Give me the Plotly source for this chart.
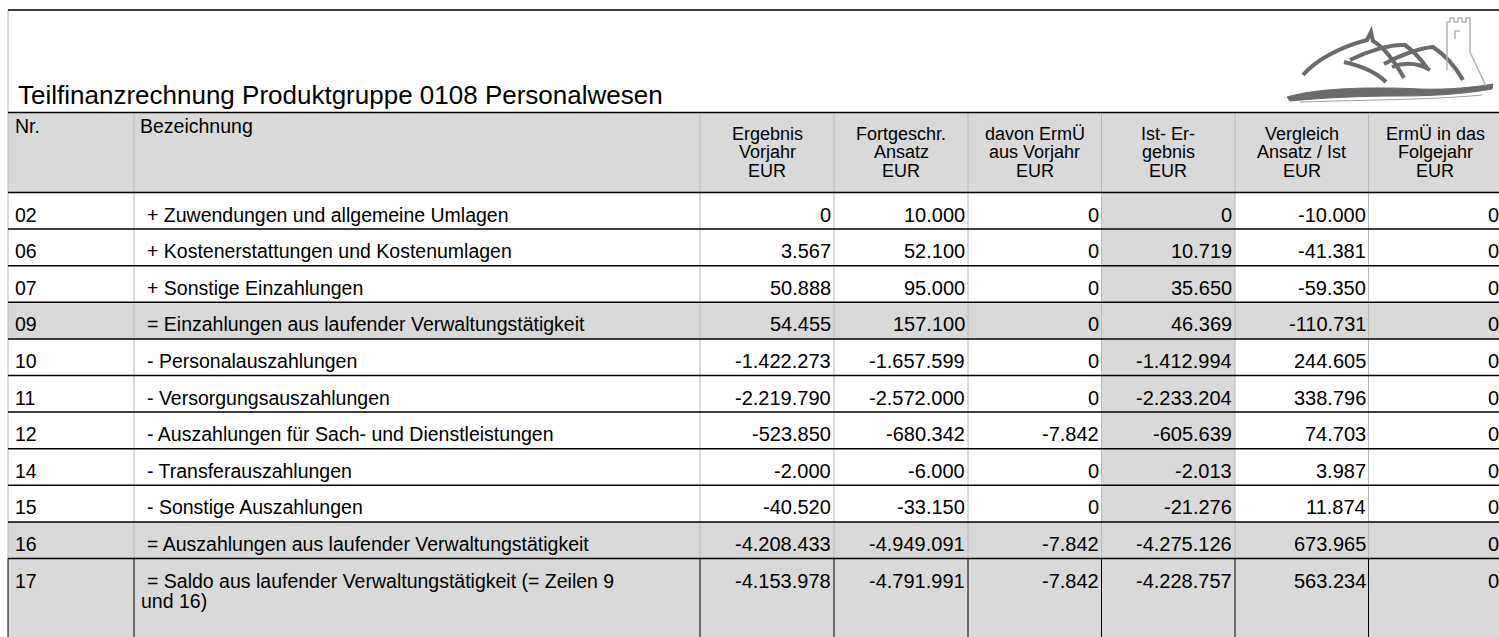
import plotly.graph_objects as go

# ---------------- data ----------------
title = "Teilfinanzrechnung Produktgruppe 0108 Personalwesen"
col_headers = [
    ["Nr."],
    ["Bezeichnung"],
    ["Ergebnis", "Vorjahr", "EUR"],
    ["Fortgeschr.", "Ansatz", "EUR"],
    ["davon ErmÜ", "aus Vorjahr", "EUR"],
    ["Ist- Er-", "gebnis", "EUR"],
    ["Vergleich", "Ansatz / Ist", "EUR"],
    ["ErmÜ in das", "Folgejahr", "EUR"],
]
nr = ["02", "06", "07", "09", "10", "11", "12", "14", "15", "16", "17"]
bezeichnung = [
    "+ Zuwendungen und allgemeine Umlagen",
    "+ Kostenerstattungen und Kostenumlagen",
    "+ Sonstige Einzahlungen",
    "= Einzahlungen aus laufender Verwaltungstätigkeit",
    "- Personalauszahlungen",
    "- Versorgungsauszahlungen",
    "- Auszahlungen für Sach- und Dienstleistungen",
    "- Transferauszahlungen",
    "- Sonstige Auszahlungen",
    "= Auszahlungen aus laufender Verwaltungstätigkeit",
    "= Saldo aus laufender Verwaltungstätigkeit (= Zeilen 9<br>und 16)",
]
ergebnis_vorjahr = [0, 3567, 50888, 54455, -1422273, -2219790, -523850, -2000, -40520, -4208433, -4153978]
fortgeschr_ansatz = [10000, 52100, 95000, 157100, -1657599, -2572000, -680342, -6000, -33150, -4949091, -4791991]
davon_ermue_vorjahr = [0, 0, 0, 0, 0, 0, -7842, 0, 0, -7842, -7842]
ist_ergebnis = [0, 10719, 35650, 46369, -1412994, -2233204, -605639, -2013, -21276, -4275126, -4228757]
vergleich_ansatz_ist = [-10000, -41381, -59350, -110731, 244605, 338796, 74703, 3987, 11874, 673965, 563234]
ermue_folgejahr = [0, 0, 0, 0, 0, 0, 0, 0, 0, 0, 0]
summary_rows = ["09", "16", "17"]
boxed_rows = ["17"]

value_columns = [ergebnis_vorjahr, fortgeschr_ansatz, davon_ermue_vorjahr,
                 ist_ergebnis, vergleich_ansatz_ist, ermue_folgejahr]

# ---------------- layout constants ----------------
W, H = 1499, 637
col_edges = [8, 134, 700, 834, 968, 1101.5, 1235, 1368.5, 1502]
shaded_col = 5            # "Ist- Ergebnis" column is always shaded
top_rule = 10
header_top, header_bottom = 112.5, 192.5
row_h = 36.6
last_row_h = 90
FILL = "#d9d9d9"
VLINE = "#b8b8b8"
BLACK = "#000000"
FONT = "Liberation Sans, Arial, Helvetica, sans-serif"
NUM_SIZE = 20
TEXT_SIZE = 19.5
HEAD_SIZE = 18
TITLE_SIZE = 26

def fmt(v):
    return f"{v:,}".replace(",", ".")

row_tops = []
y = header_bottom
for n in nr:
    row_tops.append(y)
    y += last_row_h if n in boxed_rows else row_h
row_bottoms = row_tops[1:] + [y]

shapes = []
annotations = []

def rect(x0, y0, x1, y1, fill):
    shapes.append(dict(type="rect", xref="x", yref="y", x0=x0, x1=x1, y0=y0, y1=y1,
                       fillcolor=fill, line=dict(width=0), layer="below"))

def line(x0, y0, x1, y1, color, width=1):
    shapes.append(dict(type="line", xref="x", yref="y", x0=x0, x1=x1, y0=y0, y1=y1,
                       line=dict(color=color, width=width)))

def text(x, y, s, size, anchor="left"):
    annotations.append(dict(xref="x", yref="y", x=x, y=y, text=s, showarrow=False,
                            xanchor=anchor, yanchor="middle", borderpad=0, borderwidth=0,
                            font=dict(family=FONT, size=size, color="#000000")))

# backgrounds
rect(col_edges[0], header_top, col_edges[-1], header_bottom, FILL)
for i, n in enumerate(nr):
    if n in summary_rows:
        rect(col_edges[0], row_tops[i], col_edges[-1], row_bottoms[i], FILL)
    else:
        rect(col_edges[shaded_col], row_tops[i], col_edges[shaded_col + 1], row_bottoms[i], FILL)

# vertical lines
for k, xe in enumerate(col_edges[:-1]):
    y_start = top_rule if k == 0 else header_top
    line(xe, y_start, xe, header_bottom, VLINE)
    for i, n in enumerate(nr):
        c = BLACK if n in boxed_rows else VLINE
        line(xe, row_tops[i], xe, row_bottoms[i], c)

# horizontal lines
line(col_edges[0], top_rule, W + 5, top_rule, BLACK, 1.5)
line(col_edges[0], header_top, col_edges[-1], header_top, BLACK, 1.5)
for yt in row_tops:
    line(col_edges[0], yt, col_edges[-1], yt, BLACK, 1.5)

# title
text(18, 95, title, TITLE_SIZE)

# headers
text(15, 126, col_headers[0][0], TEXT_SIZE)
text(140, 126, col_headers[1][0], TEXT_SIZE)
for k, lines_ in enumerate(col_headers[2:], start=2):
    cx = (col_edges[k] + col_edges[k + 1]) / 2
    for j, s in enumerate(lines_):
        text(cx, 134 + j * 18.3, s, HEAD_SIZE, "center")

# body
for i, n in enumerate(nr):
    yc = row_tops[i] + 22
    text(15, yc, n, TEXT_SIZE)
    for j, s in enumerate(bezeichnung[i].split("<br>")):
        text(147 if j == 0 else 141, yc + j * 20, s, TEXT_SIZE)
    for k, col in enumerate(value_columns):
        text(col_edges[k + 3] - 3, yc, fmt(col[i]), NUM_SIZE, "right")

# logo (decoration)
DARK = "#6b6b6b"
shapes.append(dict(type="path", xref="x", yref="y",
    path="M 1287 97 C 1320 87, 1380 87, 1420 89 C 1450 90, 1475 87, 1493 84 "
         "L 1492 89 C 1470 93, 1440 96, 1400 96 C 1360 96, 1320 98, 1290 101 Z",
    fillcolor=DARK, line=dict(color=DARK, width=1)))
shapes.append(dict(type="path", xref="x", yref="y",
    path="M 1300 102 C 1360 100, 1430 100, 1482 95", line=dict(color="#a0a0a0", width=1)))
for p in ["M 1303 75 C 1316 60, 1340 47, 1367 40 L 1371 32 L 1373 41 C 1385 48, 1395 62, 1404 78",
          "M 1350 60 C 1370 50, 1392 44, 1405 45 C 1412 50, 1420 58, 1427 68",
          "M 1384 64 C 1400 55, 1420 48, 1433 47 C 1445 55, 1455 66, 1463 80",
          "M 1344 62 C 1362 66, 1376 72, 1386 82",
          "M 1392 67 C 1405 62, 1418 63, 1430 70"]:
    shapes.append(dict(type="path", xref="x", yref="y", path=p,
                       line=dict(color=DARK, width=4)))
shapes.append(dict(type="path", xref="x", yref="y",
    path="M 1447 70 L 1447 22 L 1450 22 L 1450 18 L 1454 18 L 1454 22 L 1458 22 L 1458 18 "
         "L 1462 18 L 1462 22 L 1466 22 L 1466 18 L 1470 18 L 1470 52 L 1486 86",
    line=dict(color="#b4b4b4", width=1.5)))
shapes.append(dict(type="path", xref="x", yref="y", path="M 1455 39 L 1455 31 L 1460 31",
                   line=dict(color="#b4b4b4", width=1.5)))

fig = go.Figure()
fig.update_layout(
    width=W, height=H, autosize=False,
    margin=dict(l=0, r=0, t=0, b=0),
    paper_bgcolor="white", plot_bgcolor="white",
    xaxis=dict(range=[0, W], visible=False, fixedrange=True),
    yaxis=dict(range=[H, 0], visible=False, fixedrange=True),
    shapes=shapes, annotations=annotations, showlegend=False,
)
fig.write_html("out.html", config={"displayModeBar": False},
               post_script="document.body.style.margin='0';document.body.style.overflow='hidden';")
